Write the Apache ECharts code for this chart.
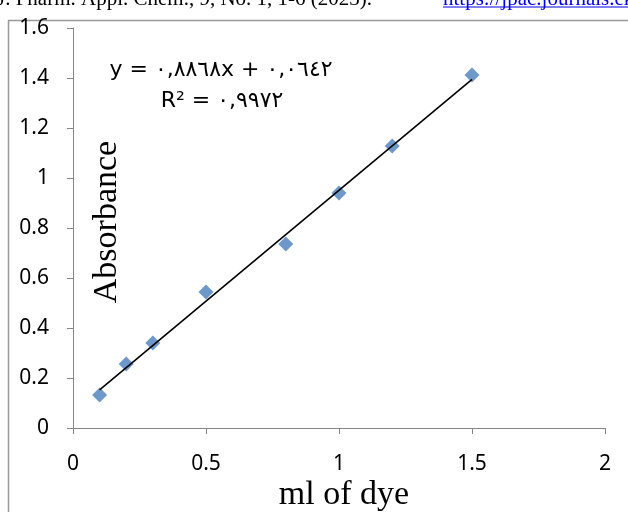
<!DOCTYPE html>
<html>
<head>
<meta charset="utf-8">
<script src="https://cdn.jsdelivr.net/npm/echarts@6/dist/echarts.min.js"></script>
<style>
  html, body { margin: 0; padding: 0; background: #fff; }
  #chart { width: 628px; height: 512px; }
</style>
</head>
<body>
<div id="chart"></div>
<script>
// data
const dyeMl = [0.1, 0.2, 0.3, 0.5, 0.8, 1.0, 1.2, 1.5]
const absorbance = [0.132, 0.256, 0.34, 0.544, 0.736, 0.94, 1.128, 1.412]
const slope = 0.8868
const intercept = 0.0642
const eqText = 'y = ٠,٨٨٦٨x + ٠,٠٦٤٢'
const r2Text = 'R² = ٠,٩٩٧٢'

const scatterData = dyeMl.map((x, i) => [x, absorbance[i]])
const xMin = Math.min(...dyeMl)
const xMax = Math.max(...dyeMl)
const trendData = [[xMin, slope * xMin + intercept], [xMax, slope * xMax + intercept]]

const chart = echarts.init(document.getElementById('chart'))
const tickFont = { color: '#000', fontSize: 21, fontFamily: 'Noto Sans' }

chart.setOption({
  animation: false,
  grid: { left: 73, right: 23, top: 28, bottom: 84 },
  xAxis: {
    type: 'value', min: 0, max: 2, interval: 0.5,
    splitLine: { show: false },
    axisLine: { lineStyle: { color: '#868686', width: 1 } },
    axisTick: { length: 6, lineStyle: { color: '#868686' } },
    axisLabel: Object.assign({ margin: 26 }, tickFont)
  },
  yAxis: {
    type: 'value', min: 0, max: 1.6, interval: 0.2,
    splitLine: { show: false },
    axisLine: { show: true, lineStyle: { color: '#868686', width: 1 } },
    axisTick: { show: true, length: 6, lineStyle: { color: '#868686' } },
    axisLabel: Object.assign({ margin: 24 }, tickFont)
  },
  series: [
    {
      type: 'line', data: trendData, symbol: 'none',
      lineStyle: { color: '#000', width: 1.6 }, z: 3
    },
    {
      type: 'scatter', data: scatterData, symbol: 'diamond', symbolSize: 15,
      itemStyle: { color: '#4a7ebb' }, z: 2
    }
  ],
  graphic: [
    // page frame lines
    { type: 'line', shape: { x1: 8.5, y1: 20.5, x2: 8.5, y2: 512 }, style: { stroke: '#999', lineWidth: 1.5 } },
    { type: 'line', shape: { x1: 8, y1: 20.5, x2: 628, y2: 20.5 }, style: { stroke: '#999', lineWidth: 1.5 } },
    // cut-off header text of the page
    { type: 'text', left: -3, top: -11, style: { text: 'J. Pharm. Appl. Chem., 9, No. 1, 1-6 (2023).', font: '21px "Liberation Serif"', fill: '#000' } },
    { type: 'text', left: 443, top: -11, style: { text: 'https://jpac.journals.ekb.eg', font: '21px "Liberation Serif"', fill: '#0000ee' } },
    { type: 'line', shape: { x1: 443, y1: 7, x2: 628, y2: 7 }, style: { stroke: '#0000ee', lineWidth: 1 } },
    // equation
    { type: 'text', x: 221, y: 70, style: { text: eqText, font: '22px "DejaVu Sans"', fill: '#000', align: 'center', verticalAlign: 'middle' } },
    { type: 'text', x: 222, y: 101, style: { text: r2Text, font: '22px "DejaVu Sans"', fill: '#000', align: 'center', verticalAlign: 'middle' } },
    // axis titles
    { type: 'text', x: 107, y: 222, rotation: Math.PI / 2, style: { text: 'Absorbance', font: '34px "Liberation Serif"', fill: '#000', align: 'center', verticalAlign: 'middle' } },
    { type: 'text', x: 344, y: 495, style: { text: 'ml of dye', font: '34px "Liberation Serif"', fill: '#000', align: 'center', verticalAlign: 'middle' } }
  ]
})
</script>
</body>
</html>
